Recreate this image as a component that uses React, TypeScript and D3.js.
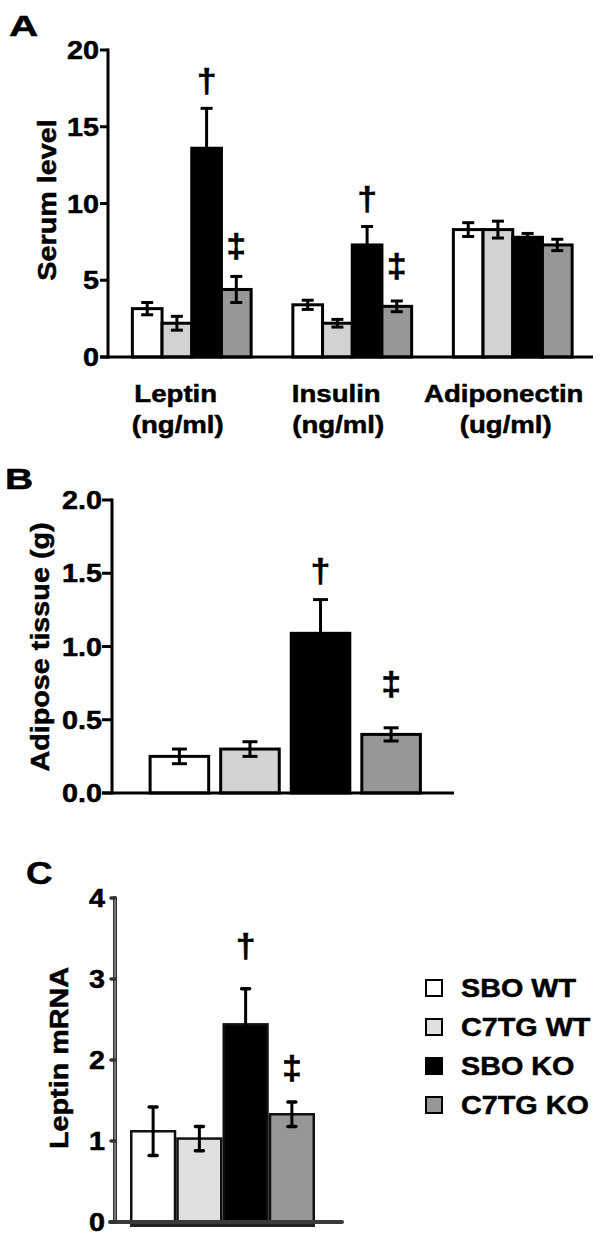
import React from "react";
import * as d3 from "d3";

const groups = ["Leptin", "Insulin", "Adiponectin"];
const groupUnits = ["(ng/ml)", "(ng/ml)", "(ug/ml)"];
const series = ["SBO WT", "C7TG WT", "SBO KO", "C7TG KO"];

const serumMeans = [
  [3.15, 2.2, 13.6, 4.4],
  [3.4, 2.2, 7.3, 3.3],
  [8.3, 8.3, 7.8, 7.3],
];
const serumErr = [
  [0.4, 0.45, 2.6, 0.85],
  [0.3, 0.25, 1.2, 0.35],
  [0.45, 0.55, 0.25, 0.37],
];
const serumTicks = [0, 5, 10, 15, 20];
// [groupIndex, seriesIndex, symbol, value at which the symbol sits]
const serumMarks: [number, number, string, number][] = [
  [0, 2, "†", 17.25],
  [0, 3, "‡", 6.5],
  [1, 2, "†", 9.6],
  [1, 3, "‡", 5.2],
];

const adiposeMeans = [0.25, 0.3, 1.09, 0.4];
const adiposeErr = [0.05, 0.05, 0.23, 0.045];
const adiposeTicks = [0, 0.5, 1, 1.5, 2];
const adiposeMarks: [number, string, number][] = [
  [2, "†", 1.44],
  [3, "‡", 0.67],
];

const mrnaMeans = [1.12, 1.03, 2.44, 1.33];
const mrnaErr = [0.3, 0.15, 0.44, 0.15];
const mrnaTicks = [0, 1, 2, 3, 4];
const mrnaMarks: [number, string, number][] = [
  [2, "†", 3.27],
  [3, "‡", 1.77],
];

const FONT = "'Liberation Sans', Arial, Helvetica, sans-serif";
const fillsAB = ["#ffffff", "#d2d2d2", "#000000", "#979797"];
const fillsC = ["#ffffff", "#e0e0e0", "#000000", "#979797"];
const SX = 1.15;

function T({
  x,
  y,
  size = 25,
  anchor = "middle",
  rotate = false,
  sx = SX,
  children,
}: {
  x: number;
  y: number;
  size?: number;
  anchor?: string;
  rotate?: boolean;
  sx?: number;
  children: React.ReactNode;
}) {
  return (
    <text
      transform={`translate(${x},${y})${rotate ? " rotate(-90)" : ""} scale(${sx},1)`}
      fontFamily={FONT}
      fontWeight="bold"
      fontSize={size}
      textAnchor={anchor as any}
      fill="#000"
      stroke="#000"
      strokeWidth={0.5}
    >
      {children}
    </text>
  );
}

function Mark({ x, y, sym }: { x: number; y: number; sym: string }) {
  return (
    <T x={x} y={y} size={34} sx={1.05}>{sym}</T>
  );
}

function PanelA() {
  const y = d3.scaleLinear().domain([0, 20]).range([357, 50]);
  const x0 = d3
    .scaleBand<string>()
    .domain(groups)
    .range([111.5, 593])
    .paddingInner(0.26)
    .paddingOuter(0.13);
  const x1 = d3.scaleBand<string>().domain(series).range([0, x0.bandwidth()]);
  const axisX = 108;
  return (
    <g>
      <T x={9} y={36} size={30} anchor="start" sx={1.35}>A</T>
      {groups.map((g, gi) =>
        series.map((s, si) => {
          const bx = (x0(g) as number) + (x1(s) as number);
          const bw = x1.bandwidth();
          const m = serumMeans[gi][si];
          const e = serumErr[gi][si];
          const cx = bx + bw / 2;
          return (
            <g key={g + s}>
              <rect x={bx} y={y(m)} width={bw} height={y(0) - y(m)} fill={fillsAB[si]} stroke="#000" strokeWidth={3} />
              <line x1={cx} x2={cx} y1={y(m - e)} y2={y(m + e)} stroke="#000" strokeWidth={3} />
              <line x1={cx - 6} x2={cx + 6} y1={y(m + e)} y2={y(m + e)} stroke="#000" strokeWidth={3} />
              <line x1={cx - 6} x2={cx + 6} y1={y(m - e)} y2={y(m - e)} stroke="#000" strokeWidth={3} />
            </g>
          );
        })
      )}
      {serumMarks.map(([gi, si, sym, v], i) => {
        const cx = (x0(groups[gi]) as number) + (x1(series[si]) as number) + x1.bandwidth() / 2;
        return <Mark key={i} x={cx} y={y(v)} sym={sym} />;
      })}
      <line x1={axisX} x2={axisX} y1={y(20) - 1.5} y2={y(0) + 1.5} stroke="#000" strokeWidth={3} />
      <line x1={axisX - 8} x2={593} y1={y(0)} y2={y(0)} stroke="#000" strokeWidth={3} />
      {serumTicks.map((t) => (
        <g key={t}>
          <line x1={axisX - 8} x2={axisX} y1={y(t)} y2={y(t)} stroke="#000" strokeWidth={3} />
          <T x={axisX - 9} y={y(t) + 9} anchor="end">{d3.format("d")(t)}</T>
        </g>
      ))}
      <T x={56} y={200} rotate>Serum level</T>
      {groups.map((g, gi) => {
        const cx = (x0(g) as number) + x0.bandwidth() / 2 - (gi === 2 ? 9 : 16);
        return (
          <g key={g}>
            <T x={cx} y={402} size={24}>{g}</T>
            <T x={cx + 2} y={433} size={24}>{groupUnits[gi]}</T>
          </g>
        );
      })}
    </g>
  );
}

function PanelB() {
  const y = d3.scaleLinear().domain([0, 2]).range([793, 500]);
  const x = d3
    .scaleBand<string>()
    .domain(series)
    .range([112, 458.5])
    .paddingInner(0.17)
    .paddingOuter(0.54);
  const axisX = 112;
  return (
    <g>
      <T x={5} y={489} size={30} anchor="start" sx={1.3}>B</T>
      {series.map((s, si) => {
        const bx = x(s) as number;
        const bw = x.bandwidth();
        const m = adiposeMeans[si];
        const e = adiposeErr[si];
        const cx = bx + bw / 2;
        return (
          <g key={s}>
            <rect x={bx} y={y(m)} width={bw} height={y(0) - y(m)} fill={fillsAB[si]} stroke="#000" strokeWidth={3} />
            <line x1={cx} x2={cx} y1={y(m - e)} y2={y(m + e)} stroke="#000" strokeWidth={3} />
            <line x1={cx - 7.5} x2={cx + 7.5} y1={y(m + e)} y2={y(m + e)} stroke="#000" strokeWidth={3} />
            <line x1={cx - 7.5} x2={cx + 7.5} y1={y(m - e)} y2={y(m - e)} stroke="#000" strokeWidth={3} />
          </g>
        );
      })}
      {adiposeMarks.map(([si, sym, v], i) => {
        const cx = (x(series[si]) as number) + x.bandwidth() / 2;
        return <Mark key={i} x={cx} y={y(v)} sym={sym} />;
      })}
      <line x1={axisX} x2={axisX} y1={y(2) - 1.5} y2={y(0) + 1.5} stroke="#000" strokeWidth={3} />
      <line x1={axisX - 10} x2={454} y1={y(0)} y2={y(0)} stroke="#000" strokeWidth={3} />
      {adiposeTicks.map((t) => (
        <g key={t}>
          <line x1={axisX - 10} x2={axisX} y1={y(t)} y2={y(t)} stroke="#000" strokeWidth={3} />
          <T x={axisX - 10} y={y(t) + 9} anchor="end">{d3.format(".1f")(t)}</T>
        </g>
      ))}
      <T x={49} y={647} rotate>Adipose tissue (g)</T>
    </g>
  );
}

function PanelC() {
  const y = d3.scaleLinear().domain([0, 4]).range([1222, 898]);
  const x = d3.scaleBand<string>().domain(series).range([130, 315]);
  const axisX = 115;
  return (
    <g>
      <T x={26} y={884} size={32} anchor="start" sx={1.15}>C</T>
      {series.map((s, si) => {
        const bx = x(s) as number;
        const bw = x.bandwidth();
        const m = mrnaMeans[si];
        return (
          <rect key={s} x={bx + 1.25} y={y(m)} width={bw - 2.5} height={y(0) - y(m) + 2} fill={fillsC[si]} stroke="#111" strokeWidth={2.5} />
        );
      })}
      {series.map((s, si) => {
        const bx = x(s) as number;
        const cx = bx + x.bandwidth() / 2;
        const m = mrnaMeans[si];
        const e = mrnaErr[si];
        return (
          <g key={s}>
            <line x1={cx} x2={cx} y1={y(m - e)} y2={y(m + e)} stroke="#000" strokeWidth={3} />
            <line x1={cx - 4} x2={cx + 4} y1={y(m + e)} y2={y(m + e)} stroke="#000" strokeWidth={3.5} strokeLinecap="round" />
            <line x1={cx - 4} x2={cx + 4} y1={y(m - e)} y2={y(m - e)} stroke="#000" strokeWidth={3.5} strokeLinecap="round" />
          </g>
        );
      })}
      {mrnaMarks.map(([si, sym, v], i) => {
        const cx = (x(series[si]) as number) + x.bandwidth() / 2;
        return <Mark key={i} x={cx} y={y(v)} sym={sym} />;
      })}
      <line x1={130} x2={315} y1={y(0) + 3.5} y2={y(0) + 3.5} stroke="#222" strokeWidth={3} />
      <line x1={axisX} x2={axisX} y1={y(4)} y2={y(0)} stroke="#333" strokeWidth={4} strokeLinecap="round" />
      <line x1={axisX} x2={axisX} y1={y(4) + 1} y2={y(0) - 1} stroke="#9a9a9a" strokeWidth={1.3} />
      <line x1={110} x2={342} y1={y(0)} y2={y(0)} stroke="#3a3a3a" strokeWidth={4} strokeLinecap="round" />
      {mrnaTicks.map((t) => (
        <g key={t}>
          <line x1={axisX - 4} x2={axisX} y1={y(t)} y2={y(t)} stroke="#333" strokeWidth={3.5} strokeLinecap="round" />
          <T x={axisX - 10} y={y(t) + 9} anchor="end">{d3.format("d")(t)}</T>
        </g>
      ))}
      <T x={68} y={1058} rotate>Leptin mRNA</T>
    </g>
  );
}

function Legend() {
  const rows = d3.scaleLinear().domain([0, 3]).range([988, 1105]);
  return (
    <g>
      {series.map((s, si) => (
        <g key={s}>
          <rect x={426} y={rows(si) - 8} width={16} height={16} fill={fillsC[si]} stroke="#000" strokeWidth={2} />
          <T x={461} y={rows(si) + 9} anchor="start">{s}</T>
        </g>
      ))}
    </g>
  );
}

export default function App() {
  return (
    <svg
      width={604}
      height={1237}
      style={{ position: "absolute", left: 0, top: 0, background: "#fff" }}
    >
      <rect x={0} y={0} width={604} height={1237} fill="#fff" />
      <PanelA />
      <PanelB />
      <PanelC />
      <Legend />
    </svg>
  );
}
